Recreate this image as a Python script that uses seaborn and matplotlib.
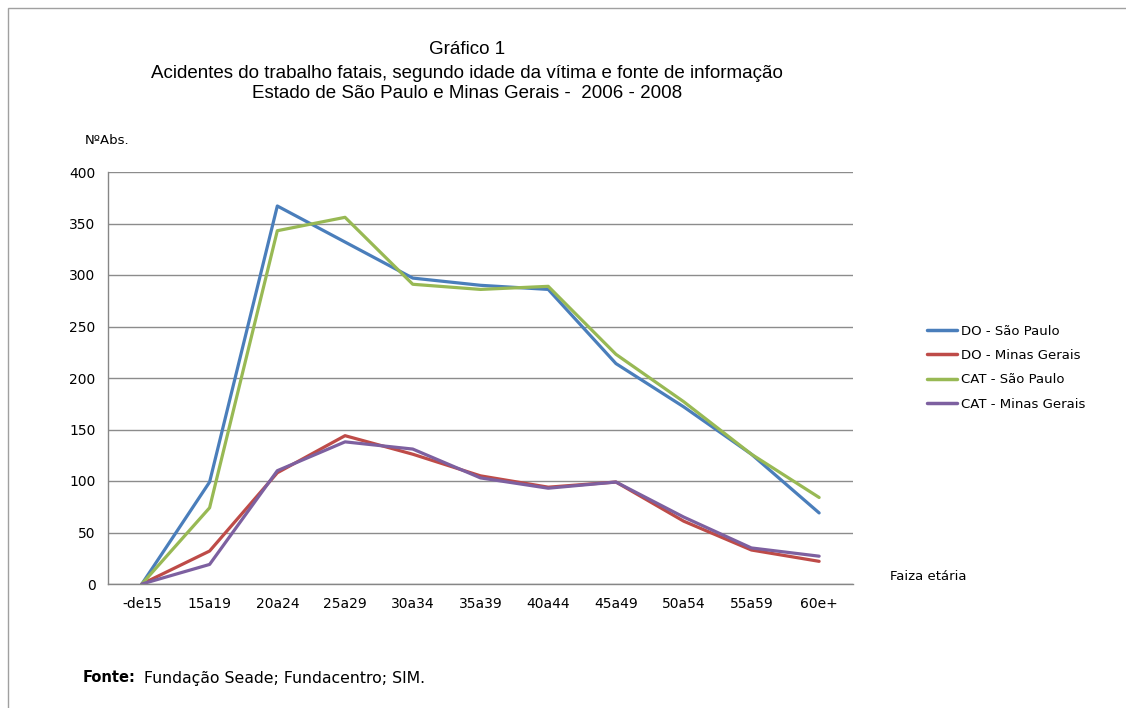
import pandas as pd
import seaborn as sns
import matplotlib.pyplot as plt
from matplotlib.patches import Rectangle
from matplotlib.ticker import FixedLocator

# faixas etarias
faixas = ["-de15", "15a19", "20a24", "25a29", "30a34", "35a39",
          "40a44", "45a49", "50a54", "55a59", "60e+"]

# valores
do_sp = [0, 99, 367, 332, 297, 290, 286, 214, 172, 126, 69]
do_mg = [0, 32, 108, 144, 126, 105, 94, 99, 61, 33, 22]
cat_sp = [0, 74, 343, 356, 291, 286, 289, 223, 177, 126, 84]
cat_mg = [0, 19, 110, 138, 131, 103, 93, 99, 65, 35, 27]

series = ["DO - São Paulo", "DO - Minas Gerais", "CAT - São Paulo", "CAT - Minas Gerais"]
cores = ["#4A7EBB", "#BE4B48", "#98B954", "#7D60A0"]

rows = []
for nome, vals in zip(series, [do_sp, do_mg, cat_sp, cat_mg]):
    for i, v in enumerate(vals):
        rows.append({"pos": i, "faixa": faixas[i], "serie": nome, "valor": v})
df = pd.DataFrame(rows)

sns.set_theme(style="white")
plt.rcParams["font.family"] = ["DejaVu Sans"]
plt.rcParams["text.color"] = "black"

fig = plt.figure(figsize=(11.26, 7.08), dpi=100)
ax = fig.add_axes([108 / 1126, 1 - 584 / 708, 745 / 1126, 412 / 708])

sns.lineplot(data=df, x="pos", y="valor", hue="serie", hue_order=series,
             palette=cores, linewidth=2.3, ax=ax, legend=True)

ax.set_xlim(-0.5, 10.5)
ax.set_ylim(0, 400)
ax.set_yticks(range(0, 401, 50))
ax.set_yticklabels([str(v) for v in range(0, 401, 50)], fontsize=10, color="black")
ax.set_xticks(range(len(faixas)))
ax.set_xticklabels(faixas, fontsize=10, color="black")
ax.xaxis.set_minor_locator(FixedLocator([i - 0.5 for i in range(len(faixas) + 1)]))
ax.tick_params(axis="x", which="major", length=0, pad=9)
ax.tick_params(axis="x", which="minor", length=5, color="#868686", width=1, direction="out")
ax.tick_params(axis="y", length=5, color="#868686", width=1, direction="out", pad=4)
ax.set_xlabel("")
ax.set_ylabel("")
ax.grid(axis="y", color="#8C8C8C", linewidth=1)
ax.set_axisbelow(True)
for s in ["top", "right"]:
    ax.spines[s].set_visible(False)
for s in ["left", "bottom"]:
    ax.spines[s].set_color("#868686")
    ax.spines[s].set_linewidth(1)

leg = ax.legend(loc="upper left", bbox_to_anchor=(915 / 1126, 1 - 313 / 708),
                bbox_transform=fig.transFigure, frameon=False, fontsize=9.5,
                handlelength=2.3, handletextpad=0.3, labelspacing=0.85)
for h in leg.get_lines():
    h.set_linewidth(2.5)
for t in leg.get_texts():
    t.set_color("black")

fig.text(467 / 1126, 1 - 50 / 708, "Gráfico 1", ha="center", va="center",
         fontsize=13.5, family="Liberation Sans")
fig.text(467 / 1126, 1 - 73 / 708,
         "Acidentes do trabalho fatais, segundo idade da vítima e fonte de informação",
         ha="center", va="center", fontsize=13.5, family="Liberation Sans")
fig.text(467 / 1126, 1 - 93 / 708, "Estado de São Paulo e Minas Gerais -  2006 - 2008",
         ha="center", va="center", fontsize=13.5, family="Liberation Sans")

fig.text(85 / 1126, 1 - 141 / 708, "NºAbs.", ha="left", va="center", fontsize=9.5)
fig.text(890 / 1126, 1 - 576 / 708, "Faiza etária", ha="left", va="center", fontsize=9.5)
fig.text(83 / 1126, 1 - 678 / 708, "Fonte:", ha="left", va="center", fontsize=10.5, weight="bold")
fig.text(144 / 1126, 1 - 678 / 708, "Fundação Seade; Fundacentro; SIM.", ha="left",
         va="center", fontsize=11.3)

# moldura
fig.patches.append(Rectangle((8 / 1126, -0.1), 1.2, 1 - 8 / 708 + 0.1,
                             transform=fig.transFigure, fill=False,
                             edgecolor="#A0A0A0", linewidth=1))

fig.savefig("out.png", dpi=100)
